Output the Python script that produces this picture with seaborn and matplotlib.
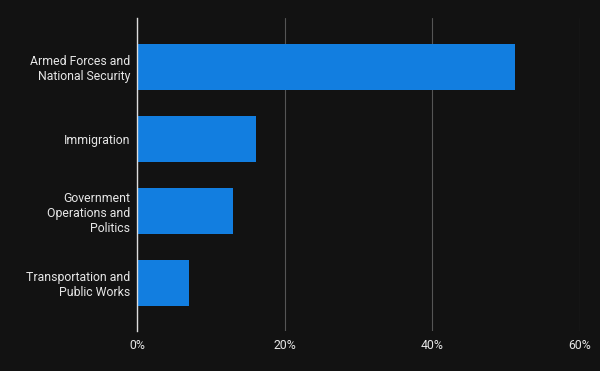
import matplotlib
matplotlib.use('Agg')
import matplotlib.pyplot as plt
from matplotlib.ticker import FuncFormatter
import seaborn as sns

categories = ['Armed Forces and\nNational Security', 'Immigration',
              'Government\nOperations and\nPolitics', 'Transportation and\nPublic Works']
shares = [51.2, 16.1, 13.0, 7.0]
x_ticks = [0, 20, 40, 60]

bg = '#121212'
sns.set_theme(style='dark')
plt.rcParams['font.family'] = ['Roboto', 'DejaVu Sans']

fig = plt.figure(figsize=(6, 3.71), dpi=100, facecolor=bg)
ax = fig.add_axes([0.2283, 0.1078, 0.7384, 0.8437])
ax.set_facecolor(bg)

sns.barplot(x=shares, y=categories, orient='h', color='#127ee0', saturation=1,
            width=0.64, linewidth=0, ax=ax)

ax.set_xlim(0, 60)
ax.set_ylim(3.67, -0.68)
ax.set_xticks(x_ticks)
ax.xaxis.set_major_formatter(FuncFormatter(lambda v, p: '{:.0f}%'.format(v)))
ax.grid(axis='x', color='#555555', linewidth=0.8)
ax.grid(axis='y', visible=False)
ax.set_axisbelow(True)
for s in ['top', 'right', 'bottom']:
    ax.spines[s].set_visible(False)
ax.spines['left'].set_color('#dddddd')
ax.spines['left'].set_linewidth(1)
ax.tick_params(axis='both', length=0, labelsize=8.8, labelcolor='#e6e6e6')
ax.tick_params(axis='y', pad=5)
ax.tick_params(axis='x', pad=6)
for lbl in ax.get_yticklabels():
    lbl.set_horizontalalignment('right')
    lbl.set_multialignment('right')
ax.set_xlabel('')
ax.set_ylabel('')

fig.savefig('out.png', dpi=100, facecolor=bg)
